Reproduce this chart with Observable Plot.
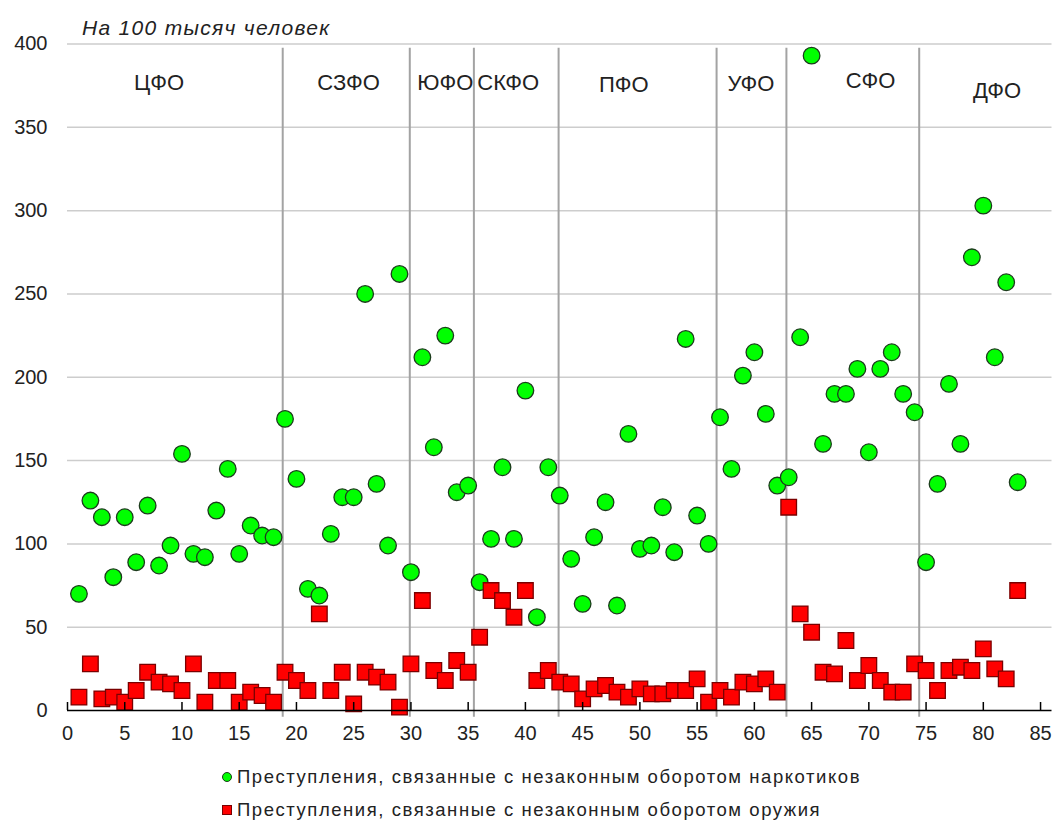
<!DOCTYPE html>
<html>
<head>
<meta charset="utf-8">
<script src="https://cdn.jsdelivr.net/npm/d3@7"></script>
<script src="https://cdn.jsdelivr.net/npm/@observablehq/plot@0.6"></script>
<style>
  body { margin: 0; background: #fff; font-family: "Liberation Sans", Arial, sans-serif; color: #222; }
  #wrap { width: 1054px; height: 828px; position: relative; overflow: hidden; }
  #title { height: 38px; box-sizing: border-box; padding-top: 18px; padding-left: 82px; font-style: italic; font-size: 21px; line-height: 20px; letter-spacing: 1.3px; color: #222; }
  .leg { height: 33px; line-height: 33px; font-size: 18.5px; letter-spacing: 1.55px; color: #222; position: relative; padding-left: 237px; }
  .mk { position: absolute; left: 222px; top: 12px; width: 8px; height: 8px; }
  .mk.c { border-radius: 50%; background: #00ff00; border: 1px solid #1c3b1c; }
  .mk.s { background: #ff0000; border: 1px solid #7a0000; }
</style>
</head>
<body>
<div id="wrap">
  <div id="title">На 100 тысяч человек</div>
  <div id="chart"></div>
  <div class="leg"><span class="mk c"></span>Преступления, связанные с незаконным оборотом наркотиков</div>
  <div class="leg"><span class="mk s"></span>Преступления, связанные с незаконным оборотом оружия</div>
</div>
<script>
// Crimes per 100k people by region index (1..83)
const drugs = [70,126,116,80,116,89,123,87,99,154,
  94,92,120,145,94,111,105,104,175,139,
  73,69,106,128,128,250,136,99,262,83,
  212,158,225,131,135,77,103,146,103,192,
  56,146,129,91,64,104,125,63,166,97,
  99,122,95,223,117,100,176,145,201,215,
  178,135,140,224,393,160,190,190,205,155,
  205,215,190,179,89,136,196,160,272,303,
  212,257,137];
const guns = [8,28,7,8,5,12,23,17,16,12,
  28,5,18,18,5,11,9,5,23,18,
  12,58,12,23,4,23,20,17,2,28,
  66,24,18,30,23,44,72,66,56,72,
  18,24,17,16,7,13,15,11,8,13,
  10,10,12,12,19,5,12,8,17,16,
  19,11,122,58,47,23,22,42,18,27,
  18,11,11,28,24,12,24,26,24,37,
  25,19,72];
const regionNames = ["ЦФО","СЗФО","ЮФО","СКФО","ПФО","УФО","СФО","ДФО"];
const regionX = [8.0, 24.55, 33.0, 38.5, 48.6, 59.7, 70.15, 81.2];
const regionY = [376.6, 376.6, 376.6, 376.6, 375.7, 376, 377.8, 371.8];
const separators = [18.8, 29.9, 35.5, 42.9, 56.7, 62.8, 74.4];
const xTicks = d3.range(0, 86, 5);
const yTicks = d3.range(0, 401, 50);

const drugData = drugs.map((v, i) => ({x: i + 1, y: v}));
const gunData = guns.map((v, i) => ({x: i + 1, y: v}));
const regions = regionNames.map((n, i) => ({name: n, x: regionX[i], y: regionY[i]}));

const chart = Plot.plot({
  width: 1054,
  height: 722,
  marginTop: 5.5,
  marginLeft: 67,
  marginRight: 2.5,
  marginBottom: 50,
  x: {domain: [0, 86]},
  y: {domain: [0, 400]},
  style: {fontFamily: "'Liberation Sans', Arial, sans-serif", fontSize: "20px", color: "#222", background: "#fff", overflow: "visible"},
  marks: [
    Plot.ruleY(yTicks.filter(v => v > 0), {stroke: "#cdcdcd", strokeWidth: 1.5}),
    Plot.ruleX(separators, {y1: -4, y2: 397.5, stroke: "#a3a3a3", strokeWidth: 2}),
    Plot.text(regions, {x: "x", y: "y", text: "name", fontSize: 22, fill: "#222", letterSpacing: 1}),
    Plot.dot(drugData, {x: "x", y: "y", r: 8.3, fill: "#00ff00", stroke: "#1c3b1c", strokeWidth: 1.3}),
    Plot.dot(gunData, {x: "x", y: "y", symbol: "square", r: 8.8, fill: "#ff0000", stroke: "#7a0000", strokeWidth: 1.3}),
    Plot.ruleY([0], {stroke: "#000", strokeWidth: 1.5}),
    Plot.ruleX(xTicks, {y1: 0, y2: 4.8, stroke: "#000", strokeWidth: 1.5}),
    Plot.axisX({ticks: xTicks, tickSize: 0, tickPadding: 15, fontSize: 20, fill: "#222", tickFormat: d => d, label: null}),
    Plot.axisY({ticks: yTicks, tickSize: 0, tickPadding: 20, fontSize: 20, fill: "#222", tickFormat: d => d, label: null})
  ]
});
document.getElementById("chart").appendChild(chart);
</script>
</body>
</html>
